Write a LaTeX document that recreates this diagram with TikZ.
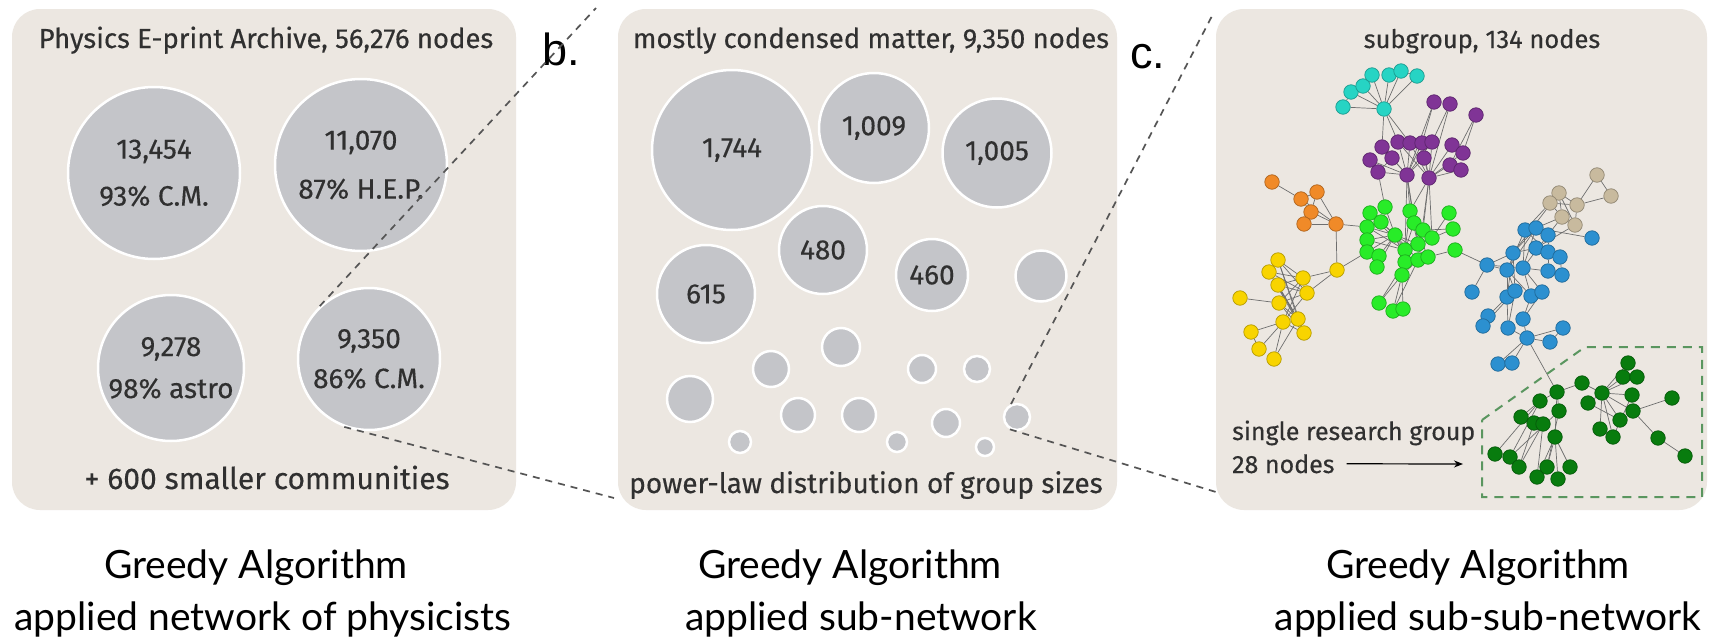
\documentclass[tikz,border=0pt]{standalone}
\usepackage{fontspec}
\setmainfont{Fira Sans}[FakeBold=0.35]
\newfontfamily\capfont{Lato}
\newfontfamily\labfont{Liberation Sans}
\usetikzlibrary{arrows.meta}
\pgfdeclarelayer{bg}
\pgfdeclarelayer{edges}
\pgfsetlayers{bg,edges,main}
\definecolor{panelbg}{RGB}{236,231,225}
\definecolor{bubfill}{RGB}{196,197,201}
\definecolor{txtgray}{RGB}{48,48,48}
\definecolor{dashgray}{RGB}{85,85,85}
\definecolor{ccyan}{RGB}{38,212,196}
\definecolor{cpurp}{RGB}{128,52,150}
\definecolor{corange}{RGB}{240,138,40}
\definecolor{cyellow}{RGB}{248,212,0}
\definecolor{cgreen}{RGB}{40,236,40}
\definecolor{cbeige}{RGB}{200,186,158}
\definecolor{cblue}{RGB}{44,144,208}
\definecolor{cdgreen}{RGB}{8,124,14}
\definecolor{boxgreen}{RGB}{90,150,95}
\definecolor{edgegray}{RGB}{110,110,110}
\newcommand{\myfs}[2]{\fontsize{#1}{#2}\selectfont}
\tikzset{
  panel/.style={rectangle, rounded corners=28pt, fill=panelbg, inner sep=0pt},
  bub/.style={circle, fill=bubfill, draw=white, line width=2.5pt, inner sep=0pt, minimum size=#1, text=txtgray, align=center},
  gn/.style={circle, inner sep=0pt, minimum size=14.5pt, fill=#1, draw=#1!72!black, line width=0.7pt},
  gedge/.style={draw=edgegray, line width=0.7pt},
  zoomline/.style={draw=dashgray, line width=1.7pt, dash pattern=on 7pt off 6pt},
  boxdash/.style={draw=boxgreen, line width=2pt, dash pattern=on 9pt off 7pt},
  ptxt/.style={text=txtgray, inner sep=0pt, font=\myfs{27.5}{30}},
  ctxt/.style={text=txtgray, inner sep=0pt, font=\myfs{25}{28}},
  captxt/.style={text=black, inner sep=0pt, font=\capfont\myfs{39}{44}},
  labtxt/.style={text=black, inner sep=0pt, font=\labfont\myfs{45}{50}},
  arr/.style={draw=black, line width=1.2pt, -{Stealth[length=9pt,width=7pt]}}
}
\begin{document}
\begin{tikzpicture}[x=1pt,y=-1pt]
\useasboundingbox (0,0) rectangle (1709,640);
\begin{pgfonlayer}{bg}
\fill[white] (0,0) rectangle (1709,640);
\node[panel, minimum width=504pt, minimum height=501pt] (pa) at (264,259.5) {};
\node[panel, minimum width=499pt, minimum height=501pt] (pb) at (867.5,259.5) {};
\node[panel, minimum width=491pt, minimum height=501pt] (pc) at (1461.5,259.5) {};
\end{pgfonlayer}

% ---------- panel a ----------
\node[ptxt, anchor=base] (ta) at (266,48) {Physics E-print Archive, 56,276 nodes};
\node[bub=172pt, font=\myfs{28}{47}] (a1) at (154,173) {13,454\\93\% C.M.};
\node[bub=172pt, font=\myfs{28}{49}] (a2) at (361,165) {11,070\\87\% H.E.P.};
\node[bub=146pt, font=\myfs{28}{42}] (a3) at (171,368) {9,278\\98\% astro};
\node[bub=142pt, font=\myfs{28}{40}] (a4) at (369,359) {9,350\\86\% C.M.};
\node[ptxt, anchor=base, font=\myfs{30}{32}] (ba) at (267,489) {+ 600 smaller communities};

% ---------- panel b ----------
\node[labtxt, anchor=base west] (lb) at (542,65) {b.};
\node[ptxt, anchor=base] (tb) at (871,48) {mostly condensed matter, 9,350 nodes};
\node[bub=160pt, font=\myfs{28}{30}] (bA) at (732,150) {1,744};
\node[bub=110pt, font=\myfs{28}{30}] (bB) at (874,128) {1,009};
\node[bub=109pt, font=\myfs{28}{30}] (bC) at (997,153) {1,005};
\node[bub=98pt, font=\myfs{28}{30}] (bD) at (706,294) {615};
\node[bub=88pt, font=\myfs{28}{30}] (bE) at (823,250) {480};
\node[bub=72pt, font=\myfs{28}{30}] (bF) at (932,275) {460};
\foreach \n/\x/\y/\d in {bG/1041/276/51, bH/841/347/38, bI/771/369/36, bJ/922/369/28,
  bK/977/369/26, bL/690/399/46, bM/798/415/34, bN/859/415/34, bO/946/423/28,
  bP/1017/417/26, bQ/740/442/22, bR/897/442/20, bS/985/447/18}
  {\node[bub=\d pt] (\n) at (\x,\y) {};}
\node[ptxt, anchor=base, font=\myfs{28}{30}] (bb) at (866,493) {power-law distribution of group sizes};

% ---------- panel c ----------
\node[labtxt, anchor=base west] (lc) at (1130,68) {c.};
\node[ptxt, anchor=base, font=\myfs{25.5}{28}] (tc) at (1482,48) {subgroup, 134 nodes};
\node[ctxt, anchor=base west] (srg) at (1232,440) {single research group};
\node[ctxt, anchor=base west] (n28) at (1232,473) {28 nodes};
\coordinate (arrend) at (1463,464);
\draw[arr] ([xshift=12pt]n28.east) -- (arrend);
\draw[boxdash] (1482,420) -- (1585,347) -- (1702,347) -- (1702,497) -- (1482,497) -- cycle;

% graph nodes
\foreach \n/\x/\y in {C1/1343/107, C2/1351/92, C3/1363/86, C4/1372/75, C5/1389/75,
  C6/1401/71, C7/1417/76, Ch/1384/109}
  {\node[gn=ccyan] (\n) at (\x,\y) {};}
\foreach \n/\x/\y in {P1/1434/102, P2/1450/104, P3/1476/115, P4/1382/147, P5/1398/142,
  P6/1410/143, P7/1422/143, P8/1432/142, P9/1392/158, P10/1424/158, P11/1370/160,
  P12/1378/172, P13/1407/175, P14/1429/178, P15/1452/145, P16/1463/153, P17/1450/165,
  P18/1461/170}
  {\node[gn=cpurp] (\n) at (\x,\y) {};}
\foreach \n/\x/\y in {O1/1272/182, O2/1301/199, O3/1317/192, O4/1311/212, O5/1304/224,
  O6/1336/224}
  {\node[gn=corange] (\n) at (\x,\y) {};}
\foreach \n/\x/\y in {Y1/1278/260, Y2/1269/272, Y3/1278/285, Y4/1303/278, Y5/1307/293,
  Yh/1337/270, Y6/1240/298, Y7/1279/303, Y8/1283/322, Y9/1298/319, Y10/1304/333,
  Y11/1251/332, Y12/1259/349, Y13/1274/359}
  {\node[gn=cyellow] (\n) at (\x,\y) {};}
\foreach \n/\x/\y in {G1/1370/213, G2/1385/207, G3/1367/227, G4/1381/222, G5/1367/240,
  G6/1395/235, G7/1367/252, G8/1379/256, G9/1377/267, G10/1410/211, G11/1414/223,
  G12/1423/230, G13/1432/238, G14/1418/244, G15/1405/250, G16/1405/262, G17/1418/260,
  G18/1428/257, G19/1402/275, G20/1449/213, G21/1453/229, G22/1455/250, G23/1379/303,
  G24/1393/311, G25/1403/309}
  {\node[gn=cgreen] (\n) at (\x,\y) {};}
\foreach \n/\x/\y in {T1/1597/175, T2/1611/196, T3/1559/193, T4/1550/203, T5/1577/205,
  T6/1562/217, T7/1575/225}
  {\node[gn=cbeige] (\n) at (\x,\y) {};}
\foreach \n/\x/\y in {B1/1487/265, B2/1507/270, B3/1523/268, B4/1513/253, B5/1525/230,
  B6/1536/228, B7/1548/235, B8/1536/248, B9/1548/252, B10/1560/257, B11/1548/271,
  B12/1562/275, B13/1592/238, B14/1472/292, B15/1507/297, B16/1515/291, B17/1531/296,
  B18/1542/292, B19/1488/316, B20/1483/326, B21/1508/328, B22/1523/319, B23/1527/338,
  B24/1550/342, B25/1563/328, B26/1498/364, B27/1512/363}
  {\node[gn=cblue] (\n) at (\x,\y) {};}
\foreach \n/\x/\y in {D1/1628/363, D2/1623/377, D3/1637/377, D4/1582/383, D5/1602/393,
  D6/1632/395, D7/1588/403, D8/1633/411, D9/1672/398, D10/1620/420, D11/1600/429,
  D12/1613/437, D13/1658/438, D14/1685/456, D15/1557/392, D16/1540/401, D17/1559/411,
  D18/1521/417, D19/1534/423, D20/1543/424, D21/1555/437, D22/1495/454, D23/1510/457,
  D24/1519/467, D25/1537/477, D26/1547/467, D27/1570/467, D28/1558/479}
  {\node[gn=cdgreen] (\n) at (\x,\y) {};}

\begin{pgfonlayer}{edges}
\foreach \a/\b in {Ch/C1, Ch/C2, Ch/C3, Ch/C4, Ch/C5, Ch/C6, Ch/C7, C1/C2, C2/C3, C3/C4,
  C5/C6, C6/C7, Ch/P4, Ch/P6, Ch/P5,
  P1/P13, P2/P14, P3/P16, P3/P17, P4/P13, P5/P13, P6/P13, P7/P13, P8/P13, P9/P13,
  P10/P13, P11/P13, P12/P13, P5/P14, P6/P14, P7/P14, P8/P14, P10/P14, P15/P14, P16/P14,
  P17/P14, P18/P14, P4/P9, P11/P12, P15/P16, P17/P18, P9/P12, P1/P7, P2/P8,
  P13/G10, P13/G11, P13/G14, P14/G10, P14/G12, P14/G13, P13/G15, P14/G17, P12/G2,
  O1/O2, O2/O3, O2/O4, O3/O4, O4/O5, O5/O6, O3/O6, O4/O6, O2/O6, O6/G3, O6/Yh,
  Yh/Y4, Yh/Y5, Yh/G7, Y1/Y4, Y1/Y5, Y2/Y4, Y2/Y5, Y3/Y4, Y3/Y5, Y3/Y9, Y1/Y9, Y2/Y10,
  Y7/Y4, Y7/Y5, Y7/Y9, Y7/Y10, Y8/Y4, Y8/Y5, Y6/Y7, Y11/Y8, Y12/Y8, Y13/Y8, Y11/Y12,
  Y13/Y9, Y1/Y2, Y8/Y10, Y3/Y10, Y1/Y10, Y2/Y9,
  G6/G1, G6/G2, G6/G3, G6/G4, G6/G5, G6/G7, G6/G8, G6/G9, G6/G14, G6/G15, G6/G16,
  G6/G17, G6/G18, G15/G1, G15/G3, G15/G5, G15/G10, G15/G11, G15/G12, G15/G13, G15/G19,
  G15/G16, G14/G10, G14/G12, G14/G13, G13/G21, G13/G20, G20/G21, G18/G22, G22/B1,
  G19/G23, G19/G24, G19/G25, G16/G23, G17/G24, G12/G21, G17/G19, G11/G18,
  B1/B2, B1/B4, B1/B3, B1/B14, B2/B5, B2/B6, B3/B5, B3/B6, B3/B7, B4/B6, B4/B8, B8/B9,
  B8/B10, B9/B11, B10/B12, B3/B11, B5/B9, B6/B13, B7/B9, B2/B15, B2/B16, B3/B17, B3/B18,
  B4/B16, B15/B19, B16/B20, B16/B21, B15/B21, B17/B22, B18/B22, B21/B23, B22/B23,
  B23/B24, B23/B25, B24/B25, B23/B26, B23/B27, B19/B20, B26/B27, B23/D15, B2/B17, B4/B15,
  T1/T2, T1/T5, T2/T5, T3/T5, T3/T6, T4/T6, T4/T5, T6/T7, T5/T7, T3/T7, T4/B5, T6/B6,
  T7/B8, T3/B4, T6/B7,
  D5/D1, D5/D2, D5/D3, D5/D6, D5/D8, D5/D10, D5/D11, D5/D12, D5/D7, D5/D4, D8/D9,
  D8/D13, D13/D14, D15/D4, D15/D16, D15/D17, D15/D21, D16/D18, D16/D22, D17/D23,
  D19/D24, D20/D25, D21/D26, D21/D27, D21/D28, D21/D25, D18/D19, D19/D20, D7/D10,
  D6/D12, D16/D23, D20/D24, D17/D26}
  {\draw[gedge] (\a) -- (\b);}
\end{pgfonlayer}

% ---------- zoom lines ----------
\coordinate (bt) at (596,8);
\coordinate (bbot) at (614,498);
\coordinate (ct) at (1213,14);
\coordinate (cbot) at (1216,492);
\draw[zoomline] (a4.133) -- (bt);
\draw[zoomline] (a4.250) -- (bbot);
\draw[zoomline] (bP.115) -- (ct);
\draw[zoomline] (bP.240) -- (cbot);

% ---------- captions ----------
\node[captxt, anchor=base] (g1) at (256,578) {Greedy Algorithm};
\node[captxt, anchor=base] (s1) at (263,630) {applied network of physicists};
\node[captxt, anchor=base] (g2) at (850,578) {Greedy Algorithm};
\node[captxt, anchor=base] (s2) at (861,630) {applied sub-network};
\node[captxt, anchor=base] (g3) at (1478,578) {Greedy Algorithm};
\node[captxt, anchor=base] (s3) at (1488,630) {applied sub-sub-network};
\end{tikzpicture}
\end{document}
